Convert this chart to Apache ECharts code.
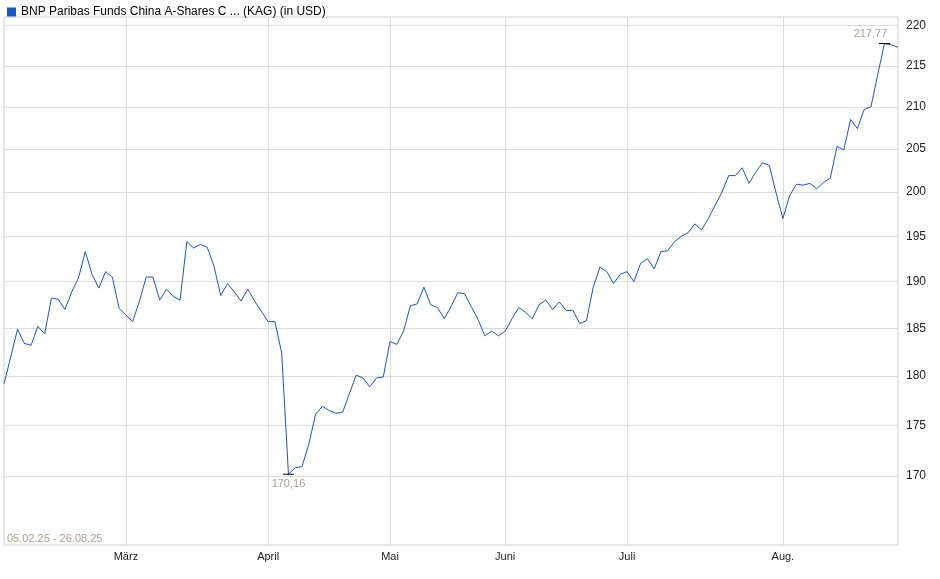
<!DOCTYPE html>
<html><head><meta charset="utf-8">
<script src="https://cdn.jsdelivr.net/npm/echarts@6/dist/echarts.min.js"></script>
<style>html,body{margin:0;padding:0;background:#fff}#c{width:940px;height:579px}</style>
</head><body><div id="c"></div>
<script>
const title = 'BNP Paribas Funds China A-Shares C ... (KAG) (in USD)';
const values = [179.2,182.0,184.9,183.4,183.2,185.2,184.4,188.2,188.1,187.0,188.9,190.4,193.3,190.8,189.3,191.1,190.5,187.1,186.4,185.7,
187.9,190.5,190.5,188.0,189.2,188.4,188.0,194.4,193.7,194.1,193.8,191.7,188.5,189.8,188.9,187.9,189.2,187.9,186.8,185.7,
185.7,182.4,170.16,170.8,170.9,173.1,176.1,176.9,176.5,176.2,176.3,178.2,180.1,179.8,178.9,179.8,179.9,183.6,183.3,184.7,
187.4,187.6,189.4,187.5,187.2,186.0,187.3,188.8,188.7,187.3,185.9,184.2,184.7,184.2,184.7,186.0,187.2,186.7,186.0,187.5,
188.0,187.0,187.8,186.9,186.9,185.5,185.8,189.4,191.6,191.1,189.8,190.8,191.1,190.0,192.0,192.5,191.4,193.3,193.4,194.4,
195.0,195.4,196.4,195.7,197.0,198.5,200.0,201.9,201.9,202.8,201.0,202.3,203.4,203.1,199.9,197.0,199.6,200.9,200.8,201.0,
200.4,201.1,201.6,205.3,204.9,208.5,207.4,209.7,210.0,213.9,217.77,217.6,217.3];
const monthIdx = [18,39,57,74,92,115];
const monthNames = ['März','April','Mai','Juni','Juli','Aug.'];
const yTicks = [170,175,180,185,190,195,200,205,210,215,220];
const dateRange = '05.02.25 - 26.08.25';
const minIdx = 42, maxIdx = 130;

const cats = values.map((v,i)=>{const k=monthIdx.indexOf(i);return k>=0?monthNames[k]:String(i);});
const isMonth = (i)=>monthIdx.indexOf(i)>=0;
const chart = echarts.init(document.getElementById('c'));
chart.setOption({
  animation:false,
  legend:{left:2,top:1,itemWidth:9,itemHeight:9,itemGap:4,icon:'rect',
    textStyle:{fontFamily:'Liberation Sans',fontSize:12,color:'#000'},data:[title]},
  grid:{left:4,right:42,top:17,bottom:34,show:true,borderColor:'#d0d0d0',borderWidth:1},
  xAxis:{type:'category',data:cats,boundaryGap:false,
    axisLine:{show:false},axisTick:{show:false},
    axisLabel:{interval:(i)=>isMonth(i),formatter:(v)=>isNaN(+v)?v:'',fontFamily:'Liberation Sans',fontSize:11,color:'#222',margin:6},
    splitLine:{show:true,interval:(i)=>isMonth(i),lineStyle:{color:'#dcdcdc',width:1}}},
  yAxis:{type:'log',logBase:10,position:'right',min:163.4,max:221.1,
    axisLine:{show:false},axisTick:{show:false,customValues:yTicks},
    axisLabel:{customValues:yTicks,formatter:(v)=>String(Math.round(v)),fontFamily:'Liberation Sans',fontSize:12,color:'#222',margin:8},
    splitLine:{show:true,lineStyle:{color:'#dcdcdc',width:1}}},
  series:[{name:title,type:'line',data:values,symbol:'none',color:'#1a56c0',lineStyle:{width:1,color:'#1a56c0'},
    markPoint:{symbol:'rect',symbolSize:[11,1],itemStyle:{color:'#000'},
      data:[{coord:[minIdx,values[minIdx]],value:'170,16',label:{position:'bottom',distance:4}},
            {coord:[maxIdx,values[maxIdx]],value:'217,77',label:{position:'top',distance:4,offset:[-14,0]}}],
      label:{show:true,color:'#a8a29a',fontFamily:'Liberation Sans',fontSize:11,formatter:(p)=>p.value}}}],
  graphic:[{type:'text',left:7,top:533,style:{text:dateRange,fill:'#aaa090',font:'11px Liberation Sans'}}]
});
</script></body></html>
